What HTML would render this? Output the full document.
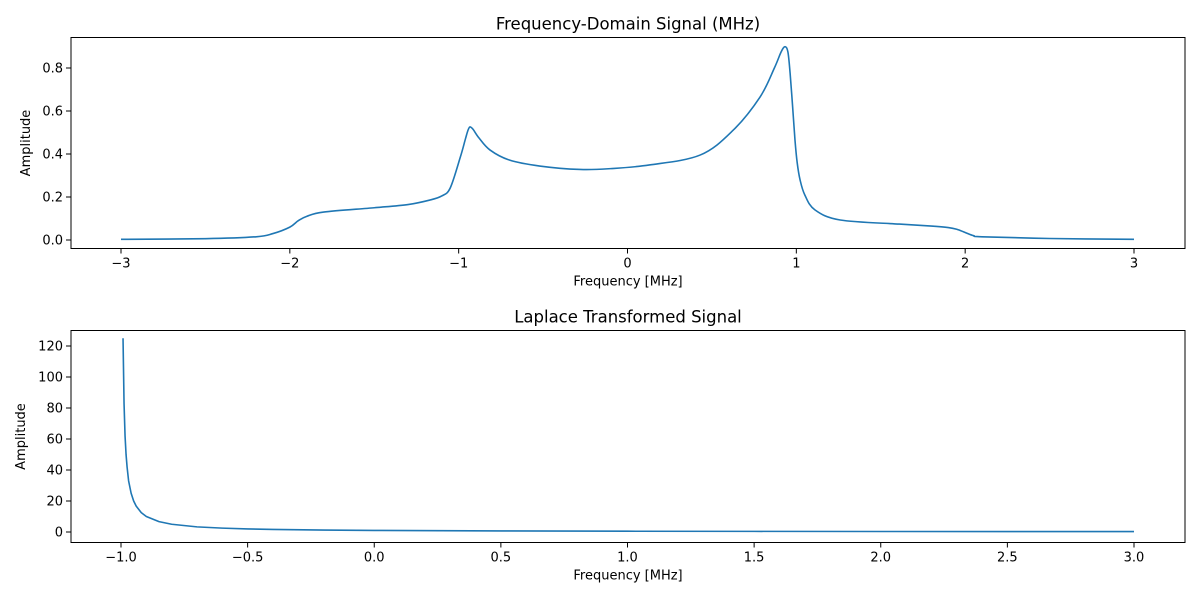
<!DOCTYPE html>
<html><head><meta charset="utf-8"><style>
body{margin:0;background:#fff;}
svg{display:block;font-family:"DejaVu Sans","Liberation Sans",sans-serif;}
</style></head><body>
<svg id="chart" width="1200" height="600"></svg>
<script>
// Top panel data
const topX = [-3,-2.5,-2.2,-2.1,-2.0,-1.95,-1.9,-1.8,-1.5,-1.3,-1.17,-1.1,-1.05,-0.99,-0.96,-0.945,-0.933,-0.915,-0.88,-0.815,-0.7,-0.52,-0.28,-0.1,0.13,0.43,0.625,0.785,0.87,0.91,0.933,0.95,0.963,0.978,0.992,1.005,1.022,1.05,1.11,1.26,1.61,1.8,1.9,1.95,2.0,2.05,2.1,2.5,3];
const topY = [0.003,0.006,0.015,0.03,0.06,0.09,0.11,0.13,0.15,0.165,0.186,0.205,0.242,0.386,0.47,0.51,0.526,0.515,0.475,0.419,0.372,0.344,0.328,0.332,0.349,0.395,0.51,0.665,0.8,0.875,0.899,0.875,0.777,0.62,0.465,0.36,0.28,0.21,0.14,0.093,0.074,0.065,0.058,0.05,0.035,0.02,0.015,0.007,0.003];
const topXTicks = [-3,-2,-1,0,1,2,3];
const topXTickLabels = ["\u22123","\u22122","\u22121","0","1","2","3"];
const topYTicks = [0,0.2,0.4,0.6,0.8];
const topYTickLabels = ["0.0","0.2","0.4","0.6","0.8"];
// Bottom panel data
const botX = [-0.992,-0.988,-0.984,-0.98,-0.976,-0.97,-0.96,-0.95,-0.94,-0.92,-0.9,-0.85,-0.8,-0.7,-0.6,-0.5,-0.4,-0.2,0,0.5,1,1.5,2,2.5,3];
const botY = [125,83,62,50,42,33,25,20,16.7,12.5,10,6.7,5,3.3,2.5,2,1.67,1.25,1,0.67,0.5,0.4,0.33,0.29,0.25];
const botXTicks = [-1,-0.5,0,0.5,1,1.5,2,2.5,3];
const botXTickLabels = ["\u22121.0","\u22120.5","0.0","0.5","1.0","1.5","2.0","2.5","3.0"];
const botYTicks = [0,20,40,60,80,100,120];
const botYTickLabels = ["0","20","40","60","80","100","120"];

const NS="http://www.w3.org/2000/svg";
const svg=document.getElementById('chart');
function mk(tag,attrs,parent){const e=document.createElementNS(NS,tag);for(const k in attrs)e.setAttribute(k,attrs[k]);(parent||svg).appendChild(e);return e;}
function txt(s,attrs,parent){const e=mk('text',attrs,parent);e.textContent=s;return e;}
function smoothPath(pts,smooth){
  if(!smooth) return pts.map((p,i)=>(i?'L':'M')+p[0].toFixed(2)+','+p[1].toFixed(2)).join(' ');
  let d='M'+pts[0][0].toFixed(2)+','+pts[0][1].toFixed(2);
  for(let i=0;i<pts.length-1;i++){
    const p0=pts[Math.max(0,i-1)],p1=pts[i],p2=pts[i+1],p3=pts[Math.min(pts.length-1,i+2)];
    const c1=[p1[0]+(p2[0]-p0[0])/6,p1[1]+(p2[1]-p0[1])/6];
    const c2=[p2[0]-(p3[0]-p1[0])/6,p2[1]-(p3[1]-p1[1])/6];
    d+=` C${c1[0].toFixed(2)},${c1[1].toFixed(2)} ${c2[0].toFixed(2)},${c2[1].toFixed(2)} ${p2[0].toFixed(2)},${p2[1].toFixed(2)}`;
  }
  return d;
}

function panel(cfg){
  const g=mk('g',{});
  
  
  const sx=v=>cfg.x0px+(v-cfg.x0)*(cfg.x1px-cfg.x0px)/(cfg.x1-cfg.x0);
  const sy=v=>cfg.y0px+(v-cfg.y0)*(cfg.y1px-cfg.y0px)/(cfg.y1-cfg.y0);
  const t=txt(cfg.title,{x:(cfg.L+cfg.R)/2,y:cfg.T-8,'text-anchor':'middle','font-size':'16.5',fill:'#000'},g);
  
  
  cfg.xt.forEach((v,i)=>{
    const x=sx(v);
    const l=mk('line',{x1:x,x2:x,y1:cfg.B,y2:cfg.B+5,stroke:'#000','stroke-width':1},g);
    
    
    const tl=txt(cfg.xtl[i],{x:x,y:cfg.B+19,'text-anchor':'middle','font-size':'13',fill:'#000'},g);
    
    
  });
  cfg.yt.forEach((v,i)=>{
    const y=sy(v);
    const l=mk('line',{x1:cfg.L-5,x2:cfg.L,y1:y,y2:y,stroke:'#000','stroke-width':1},g);
    
    
    const tl=txt(cfg.ytl[i],{x:cfg.L-8,y:y+4.5,'text-anchor':'end','font-size':'13',fill:'#000'},g);
    
    
  });
  const xl=txt('Frequency [MHz]',{x:(cfg.L+cfg.R)/2,y:cfg.B+37,'text-anchor':'middle','font-size':'13',fill:'#000'},g);
  
  
  const yl=txt('Amplitude',{x:0,y:0,'text-anchor':'middle','font-size':'13',fill:'#000',transform:`translate(${cfg.ylx},${(cfg.T+cfg.B)/2}) rotate(-90)`},g);
  
  
  const pts=cfg.xs.map((v,i)=>[sx(v),sy(cfg.ys[i])]);
  const p=mk('path',{d:smoothPath(pts,cfg.smooth),fill:'none',stroke:'#1f77b4','stroke-width':1.6,'stroke-linejoin':'round'},g);
  
  
  const fr=mk('rect',{x:cfg.L,y:cfg.T,width:cfg.R-cfg.L,height:cfg.B-cfg.T,fill:'none',stroke:'#000','stroke-width':1},g);
  
  
}
panel({name:'frequency-domain-panel',title:'Frequency-Domain Signal (MHz)',L:71,R:1185,T:37.5,B:248.5,
  x0:-3,x1:3,x0px:121,x1px:1134,y0:0,y1:0.8,y0px:240,y1px:68,ylx:30,smooth:true,
  xs:topX,ys:topY,xt:topXTicks,xtl:topXTickLabels,yt:topYTicks,ytl:topYTickLabels});
panel({name:'laplace-panel',title:'Laplace Transformed Signal',L:71,R:1185,T:330.5,B:542.5,
  x0:-1,x1:3,x0px:121,x1px:1134,y0:0,y1:120,y0px:532,y1px:346,ylx:25,smooth:false,
  xs:botX,ys:botY,xt:botXTicks,xtl:botXTickLabels,yt:botYTicks,ytl:botYTickLabels});
</script>
</body></html>
